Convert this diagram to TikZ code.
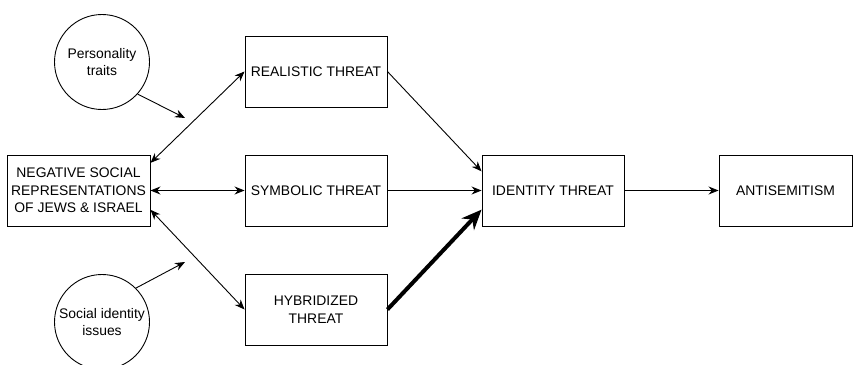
\documentclass[tikz,border=0pt]{standalone}
\usepackage{fontspec}
\setmainfont{Liberation Sans}
\usetikzlibrary{arrows.meta}

\begin{document}
\begin{tikzpicture}
[x=1pt,y=-1pt,line width=0.9pt,
 box/.style={draw,minimum width=142pt,minimum height=71pt,inner sep=1pt,align=center,font=\fontsize{13.9}{17.5}\selectfont},
 trait/.style={draw,circle,minimum size=95pt,inner sep=0pt,align=center,font=\fontsize{13.9}{17.5}\selectfont},
 arr/.style={-{Stealth[length=10pt,width=8pt]}},
 both/.style={{Stealth[length=10pt,width=8pt]}-{Stealth[length=10pt,width=8pt]}}]
\useasboundingbox (0,0) rectangle (856,364);
\node[trait] (c1) at (102,62) {Personality\\traits};
\node[trait] (c2) at (102,322) {Social identity\\issues};
\node[box,minimum width=143pt] (nsr) at (78.5,190.5) {NEGATIVE SOCIAL\\REPRESENTATIONS\\OF JEWS \& ISRAEL};
\node[box] (real) at (316,71.5) {REALISTIC THREAT};
\node[box] (symb) at (316,190.5) {SYMBOLIC THREAT};
\node[box] (hyb) at (316,309.5) {HYBRIDIZED\\THREAT};
\node[box] (iden) at (553,190.5) {IDENTITY THREAT};
\node[box,minimum width=133pt] (anti) at (785.5,190.5) {ANTISEMITISM};
\coordinate (m1) at (185,118);
\coordinate (m2) at (185,262);
\foreach \from/\to in {nsr.21/real.west,nsr/symb,nsr.-15/hyb.west}
\draw[both] (\from) -- (\to);
\foreach \from/\to in {real.east/iden.165,symb/iden,iden/anti,c1.-42/m1,c2.45/m2}
\draw[arr] (\from) -- (\to);
\draw[line width=4pt,-{Stealth[length=20pt,width=17pt]}] (hyb.east) -- (iden.195);
\end{tikzpicture}
\end{document}
